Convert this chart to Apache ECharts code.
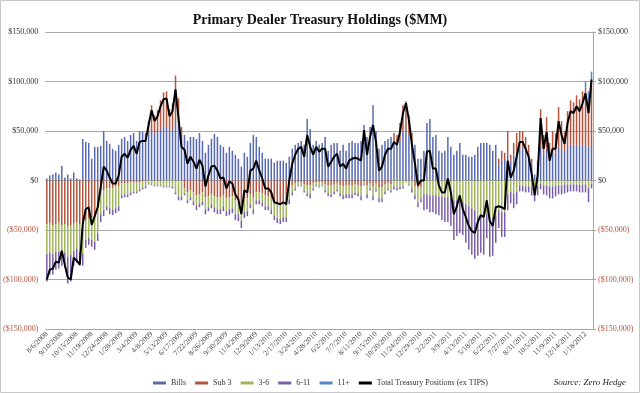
<!DOCTYPE html>
<html><head><meta charset="utf-8">
<script src="https://cdn.jsdelivr.net/npm/echarts@6/dist/echarts.min.js"></script>
<style>html,body{margin:0;padding:0;background:#fff}#c{width:640px;height:393px}</style>
</head><body><div id="c"></div>
<script>
const dates = ["8/6/2008","8/13/2008","8/20/2008","8/27/2008","9/3/2008","9/10/2008","9/17/2008","9/24/2008","10/1/2008","10/8/2008","10/15/2008","10/22/2008","10/29/2008","11/5/2008","11/12/2008","11/19/2008","11/26/2008","12/3/2008","12/10/2008","12/17/2008","12/24/2008","12/31/2008",
"1/7/2009","1/14/2009","1/21/2009","1/28/2009","2/4/2009","2/11/2009","2/18/2009","2/25/2009","3/4/2009","3/11/2009","3/18/2009","3/25/2009","4/1/2009","4/8/2009","4/15/2009","4/22/2009","4/29/2009","5/6/2009","5/13/2009","5/20/2009","5/27/2009","6/3/2009","6/10/2009","6/17/2009","6/24/2009","7/1/2009","7/8/2009","7/15/2009","7/22/2009","7/29/2009","8/5/2009","8/12/2009","8/19/2009","8/26/2009","9/2/2009","9/9/2009","9/16/2009","9/23/2009","9/30/2009","10/7/2009","10/14/2009","10/21/2009","10/28/2009","11/4/2009","11/11/2009","11/18/2009","11/25/2009","12/2/2009","12/9/2009","12/16/2009","12/23/2009","12/30/2009",
"1/6/2010","1/13/2010","1/20/2010","1/27/2010","2/3/2010","2/10/2010","2/17/2010","2/24/2010","3/3/2010","3/10/2010","3/17/2010","3/24/2010","3/31/2010","4/7/2010","4/14/2010","4/21/2010","4/28/2010","5/5/2010","5/12/2010","5/19/2010","5/26/2010","6/2/2010","6/9/2010","6/16/2010","6/23/2010","6/30/2010","7/7/2010","7/14/2010","7/21/2010","7/28/2010","8/4/2010","8/11/2010","8/18/2010","8/25/2010","9/1/2010","9/8/2010","9/15/2010","9/22/2010","9/29/2010","10/6/2010","10/13/2010","10/20/2010","10/27/2010","11/3/2010","11/10/2010","11/17/2010","11/24/2010","12/1/2010","12/8/2010","12/15/2010","12/22/2010","12/29/2010",
"1/5/2011","1/12/2011","1/19/2011","1/26/2011","2/2/2011","2/9/2011","2/16/2011","2/23/2011","3/2/2011","3/9/2011","3/16/2011","3/23/2011","3/30/2011","4/6/2011","4/13/2011","4/20/2011","4/27/2011","5/4/2011","5/11/2011","5/18/2011","5/25/2011","6/1/2011","6/8/2011","6/15/2011","6/22/2011","6/29/2011","7/6/2011","7/13/2011","7/20/2011","7/27/2011","8/3/2011","8/10/2011","8/17/2011","8/24/2011","8/31/2011","9/7/2011","9/14/2011","9/21/2011","9/28/2011","10/5/2011","10/12/2011","10/19/2011","10/26/2011","11/2/2011","11/9/2011","11/16/2011","11/23/2011","11/30/2011","12/7/2011","12/14/2011","12/21/2011","12/28/2011",
"1/4/2012","1/11/2012","1/18/2012","1/25/2012","2/1/2012"];

const bills = [2000,5000,6000,8000,6000,15000,3000,6000,2000,8000,2000,1000,
42000,39000,38000,22000,34000,34000,
35000,50000,40000,37000,32000,30000,36000,42000,44000,40000,46000,48000,40000,50000,49000,48000,
48000,52000,48000,50000,52000,55000,54000,50000,52000,60000,55000,46000,
46000,40000,44000,44000,42000,48000,40000,28000,36000,42000,47000,44000,36000,34000,28000,34000,30000,26000,22000,14000,28000,24000,38000,46000,44000,34000,28000,22000,22000,22000,18000,20000,20000,20000,18000,
24000,32000,36000,38000,40000,36000,62000,52000,36000,40000,36000,38000,44000,30000,36000,38000,38000,30000,36000,30000,38000,40000,38000,38000,40000,56000,44000,54000,76000,50000,32000,36000,40000,42000,44000,
38000,36000,40000,50000,52000,46000,38000,36000,22000,22000,
30000,58000,62000,44000,46000,30000,28000,30000,44000,34000,26000,30000,38000,26000,26000,24000,24000,26000,
34000,38000,38000,38000,36000,30000,36000,16000,20000,22000,
26000,20000,26000,30000,32000,34000,32000,28000,18000,6000,
16000,34000,28000,32000,24000,28000,28000,34000,32000,30000,34000,36000,36000,36000,36000,36000,36000,34000,36000];

const sub3 = [-44000,-43000,-45000,-44000,-42000,-45000,-44000,-46000,-45000,-43000,-42000,-44000,
-44000,-40000,-38000,-38000,-36000,-30000,
-12000,-10000,-8000,-8000,-8000,-6000,-6000,-3000,-3000,-3000,-2000,-2000,-2000,-2000,-1000,-1000,
12000,24000,18000,21000,29000,34000,36000,22000,26000,46000,28000,8000,
-8000,-12000,-10000,-12000,-15000,-14000,-12000,-17000,-16000,-14000,-16000,-17000,-17000,-15000,-18000,-17000,-16000,-20000,-20000,-24000,-19000,-18000,-14000,-17000,-12000,-12000,-13000,-15000,-16000,-18000,-22000,-24000,-24000,-23000,-23000,
-7000,-5000,-3000,-2000,-2000,-4000,-5000,-5000,-3000,-2000,-2000,-2000,-4000,-5000,-5000,-4000,-3000,-5000,-6000,-5000,-5000,-5000,-4000,-5000,-6000,-1000,-5000,-3000,-6000,-3000,-7000,-7000,-4000,-3000,-4000,
10000,10000,18000,26000,28000,20000,10000,-6000,-8000,-7000,
0,0,0,0,0,0,0,0,0,0,0,0,0,0,0,0,0,0,
0,0,0,0,0,0,0,6000,10000,6000,
24000,6000,12000,18000,18000,16000,12000,8000,4000,0,
4000,38000,18000,32000,14000,22000,20000,40000,28000,20000,36000,45000,43000,50000,46000,54000,58000,46000,62000];

const m3to6 = [-30000,-30000,-29000,-28000,-30000,-27000,-29000,-31000,-30000,-28000,-27000,-28000,
-30000,-20000,-20000,-22000,-26000,-24000,
-22000,-20000,-18000,-20000,-21000,-22000,-20000,-12000,-11000,-11000,-10000,-9000,-9000,-7000,-6000,-5000,
-3000,-4000,-5000,-5000,-5000,-6000,-6000,-6000,-6000,-12000,-16000,-16000,
-5000,-8000,-7000,-9000,-10000,-9000,-9000,-12000,-11000,-10000,-11000,-12000,-12000,-11000,-13000,-12000,-12000,-14000,-14000,-17000,-13000,-13000,-10000,-12000,-8000,-8000,-9000,-11000,-10000,-12000,-13000,-14000,-15000,-14000,-14000,
-12000,-7000,-5000,-3000,-3000,-6000,-8000,-9000,-5000,-3000,-4000,-3000,-6000,-8000,-9000,-7000,-6000,-8000,-9000,-9000,-9000,-9000,-8000,-8000,-10000,-3000,-9000,-5000,-10000,-6000,-11000,-11000,-7000,-5000,-6000,
-6000,-7000,-6000,-6000,-2000,-4000,-8000,-9000,-14000,-11000,
-14000,-14000,-15000,-15000,-15000,-16000,-16000,-17000,-17000,-18000,-20000,-20000,-20000,-22000,-24000,-26000,-28000,-30000,
-36000,-36000,-38000,-34000,-38000,-38000,-36000,-30000,-32000,-32000,
-14000,-11000,-13000,-11000,-5000,-5000,-6000,-6000,-7000,-9000,
-5000,-3000,-5000,-5000,-6000,-6000,-5000,-5000,-5000,-4000,-4000,-4000,-4000,-4000,-4000,-4000,-4000,-7000,-3000];

const m6to11 = [-28000,-22000,-21000,-18000,-17000,-14000,-15000,-27000,-27000,-15000,-14000,-14000,
-12000,-8000,-7000,-7000,-8000,-7000,
-8000,-6000,-4000,-6000,-6000,-5000,-5000,-3000,-3000,-3000,-3000,-2000,-2000,-2000,-2000,-2000,
-1000,-1000,-1000,-1000,-1000,-1000,-1000,-1000,-2000,-2000,-4000,-4000,
-2000,-3000,-3000,-4000,-5000,-4000,-4000,-5000,-4000,-4000,-5000,-5000,-5000,-5000,-5000,-6000,-5000,-6000,-7000,-7000,-6000,-5000,-4000,-5000,-4000,-4000,-4000,-4000,-4000,-4000,-5000,-5000,-5000,-5000,-5000,
-5000,-3000,-2000,-1000,-1000,-2000,-3000,-4000,-2000,-1000,-1000,-1000,-2000,-3000,-3000,-3000,-2000,-3000,-4000,-4000,-4000,-4000,-3000,-3000,-4000,-1000,-4000,-2000,-4000,-2000,-4000,-4000,-3000,-2000,-2000,
-3000,-3000,-3000,-2000,0,-1000,-4000,-4000,-5000,-4000,
-16000,-15000,-17000,-17000,-19000,-19000,-24000,-25000,-25000,-28000,-40000,-36000,-33000,-33000,-39000,-44000,-47000,-49000,
-40000,-37000,-37000,-24000,-39000,-38000,-27000,-18000,-25000,-25000,
-16000,-12000,-15000,-13000,-6000,-6000,-6000,-6000,-8000,-12000,
-10000,-6000,-9000,-10000,-12000,-12000,-11000,-9000,-9000,-9000,-8000,-7000,-7000,-7000,-8000,-8000,-8000,-15000,-5000];

const m11plus = [0,0,0,0,0,0,0,0,0,0,0,0,0,0,0,0,0,0,0,0,
0,0,0,0,0,0,0,0,0,0,0,0,0,0,0,0,0,0,0,0,
0,0,0,0,0,0,0,0,0,0,0,0,0,0,0,0,0,0,0,0,
0,0,0,0,0,0,0,0,0,0,0,0,0,0,0,0,0,0,0,0,
0,0,0,0,0,0,0,0,0,0,0,0,0,0,0,0,0,0,0,0,
0,0,0,0,0,0,0,0,0,0,0,0,0,0,0,0,0,0,0,0,
0,0,0,0,0,0,0,0,0,0,0,0,0,0,0,0,0,0,0,0,
0,0,0,0,0,0,0,0,0,0,0,0,0,0,0,0,0,0,0,0,
0,0,0,0,0,0,0,0,0,0,0,0,0,0,0,0,0,0,0,0,
6000,10000,12000];

const totalPositions = [-100000,-90000,-89000,-82000,-83000,-71000,-85000,-98000,-100000,-78000,-81000,-85000,
-44000,-29000,-27000,-45000,-36000,-27000,
-7000,14000,10000,3000,-3000,-3000,5000,24000,27000,23000,31000,35000,27000,39000,40000,40000,
56000,71000,60000,65000,75000,82000,83000,65000,70000,92000,63000,34000,
31000,17000,24000,19000,12000,21000,15000,-6000,5000,14000,15000,10000,2000,3000,-8000,-1000,-3000,-14000,-19000,-34000,-10000,-12000,10000,12000,20000,10000,2000,-8000,-8000,-12000,-22000,-23000,-24000,-22000,-24000,
0,17000,26000,32000,34000,24000,46000,34000,26000,34000,29000,32000,32000,14000,19000,24000,27000,14000,17000,12000,20000,22000,23000,22000,20000,51000,26000,44000,56000,39000,10000,14000,26000,32000,32000,
39000,36000,49000,68000,78000,61000,36000,17000,-5000,0,
0,29000,30000,12000,12000,-5000,-12000,-12000,2000,-12000,-34000,-26000,-15000,-29000,-37000,-46000,-51000,-53000,
-42000,-35000,-37000,-20000,-41000,-46000,-27000,-26000,-27000,-29000,
20000,3000,10000,24000,39000,39000,32000,24000,7000,-15000,
5000,63000,32000,49000,20000,32000,32000,60000,46000,37000,58000,70000,68000,75000,70000,78000,88000,68000,102000];

const seriesNames = ["Bills", "Sub 3", "3-6", "6-11", "11+"];
const lineName = "Total Treasury Positions (ex TIPS)";
const colors = ["#5869B4", "#B4553F", "#A0B55A", "#7A5DAA", "#5088C8"];
const barData = [bills, sub3, m3to6, m6to11, m11plus];

const serif = "'Liberation Serif', 'DejaVu Serif', serif";
function fmt(v) {
  const s = '$' + Math.abs(v).toLocaleString('en-US');
  return v < 0 ? '(' + s + ')' : s;
}
function labCol(v) { return v < 0 ? '#B5533C' : '#333333'; }

const chart = echarts.init(document.getElementById('c'), null, {renderer: 'canvas'});
const series = barData.map((d, k) => ({
  name: seriesNames[k], type: 'bar', stack: 'pos', stackStrategy: 'samesign',
  data: d, barWidth: 1.5, itemStyle: {color: colors[k]}, yAxisIndex: 0
}));
series.push({
  name: lineName, type: 'line', data: totalPositions, symbol: 'none',
  lineStyle: {color: '#000', width: 2}, itemStyle: {color: '#000'}, z: 10, yAxisIndex: 0
});

const yCommon = {
  type: 'value', min: -150000, max: 150000, interval: 50000,
  axisLabel: {formatter: fmt, color: labCol, fontSize: 8, fontFamily: serif}
};

chart.setOption({
  animation: false,
  backgroundColor: '#fff',
  title: {
    text: 'Primary Dealer Treasury Holdings ($MM)', left: 'center', top: 8,
    textStyle: {fontFamily: serif, fontSize: 14, fontWeight: 'bold', color: '#111'}
  },
  grid: {left: 45, right: 47, top: 32, bottom: 64},
  legend: {
    left: 148, top: 374, itemWidth: 13, itemHeight: 3, itemGap: 9,
    textStyle: {fontFamily: serif, fontSize: 8, color: '#333'},
    data: seriesNames.map(n => ({name: n, icon: 'rect'})).concat([{name: lineName, icon: 'rect'}])
  },
  xAxis: {
    type: 'category', data: dates, boundaryGap: true,
    axisLine: {show: false, onZero: false}, axisTick: {show: false},
    axisLabel: {interval: 4, rotate: 45, fontSize: 7.5, fontFamily: serif, color: '#444', margin: 4}
  },
  yAxis: [
    Object.assign({}, yCommon, {
      position: 'left', axisLine: {show: false}, axisTick: {show: false},
      splitLine: {show: true, lineStyle: {color: '#A8A8A8', width: 1}},
      axisLabel: Object.assign({}, yCommon.axisLabel, {margin: 7})
    }),
    Object.assign({}, yCommon, {
      position: 'right', axisLine: {show: true, lineStyle: {color: '#A8A8A8'}},
      axisTick: {show: true, length: 3, lineStyle: {color: '#A8A8A8'}},
      splitLine: {show: false},
      axisLabel: Object.assign({}, yCommon.axisLabel, {margin: 5})
    })
  ],
  graphic: [
    {type: 'rect', shape: {x: 0.5, y: 0.5, width: 639, height: 392}, style: {fill: 'none', stroke: '#C8C8C8', lineWidth: 1}, silent: true},
    {type: 'text', right: 14, top: 378, style: {text: 'Source: Zero Hedge', font: "italic 9px 'Liberation Serif', serif", fill: '#222'}}
  ],
  series: series
});
</script>
</body></html>
